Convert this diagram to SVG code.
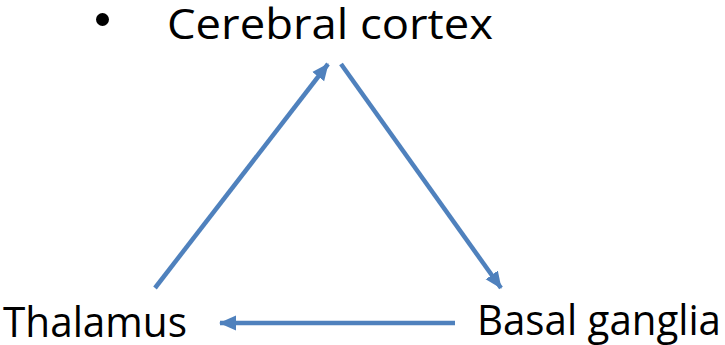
<svg xmlns="http://www.w3.org/2000/svg" width="725" height="345" viewBox="0 0 725 345">
<style>
.lbl{font-family:"Open Sans","Liberation Sans",sans-serif;font-size:42px;fill:#000}
.conn{stroke:#4F81BD;stroke-width:4.5;fill:none}
</style>
<defs>
<marker id="ah" markerUnits="userSpaceOnUse" markerWidth="18" markerHeight="18" viewBox="0 0 18 18" refX="16" refY="9" orient="auto">
<path d="M0,1.5 L17,9 L0,16.5 Z" fill="#4F81BD"/>
</marker>
</defs>
<rect width="725" height="345" fill="#fff"/>
<g id="cortex">
<circle cx="102.5" cy="19.5" r="6.5" fill="#000"/>
<text class="lbl" x="167" y="39" textLength="326" lengthAdjust="spacingAndGlyphs">Cerebral cortex</text>
</g>
<g id="thalamus">
<text class="lbl" x="3" y="337" textLength="184" lengthAdjust="spacingAndGlyphs">Thalamus</text>
</g>
<g id="basal">
<text class="lbl" x="477" y="335" textLength="244" lengthAdjust="spacingAndGlyphs">Basal ganglia</text>
</g>
<g id="connectors">
<line class="conn" x1="155" y1="288" x2="328" y2="64" marker-end="url(#ah)"/>
<line class="conn" x1="341" y1="64" x2="501" y2="288" marker-end="url(#ah)"/>
<line class="conn" x1="455" y1="323" x2="220" y2="323" marker-end="url(#ah)"/>
</g>
</svg>
